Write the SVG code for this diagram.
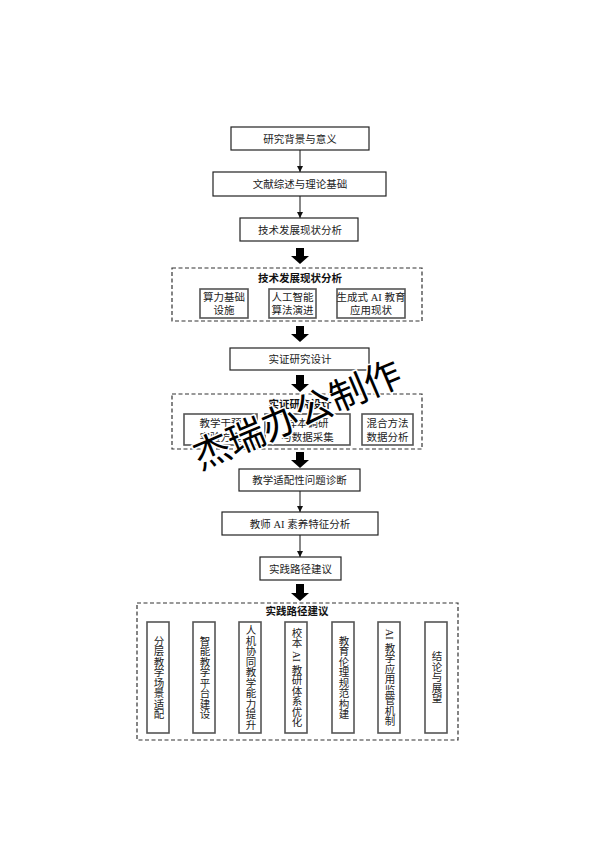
<svg xmlns="http://www.w3.org/2000/svg" width="594" height="841" viewBox="0 0 594 841">
<defs>
<style>
.bg{fill:#ffffff}
.box{fill:#ffffff;stroke:#222;stroke-width:1.2}
.ibox{fill:#ffffff;stroke:#555;stroke-width:1.6}
.dash{fill:none;stroke:#333;stroke-width:1.2;stroke-dasharray:4 2.5}
.t{font-family:"Liberation Serif","Noto Sans CJK SC",serif;font-size:10.5px;fill:#222;text-anchor:middle}
.tt{font-family:"Noto Sans CJK SC",sans-serif;font-size:10.5px;font-weight:bold;fill:#111;text-anchor:middle}
.v{font-family:"Liberation Serif","Noto Sans CJK SC",serif;font-size:10.5px;fill:#222;text-anchor:middle;writing-mode:vertical-rl}
.ln{stroke:#111;stroke-width:1;fill:none}
.blk{fill:#000}
.wm{font-family:"Noto Sans CJK SC",sans-serif;font-size:37px;fill:#000;stroke:#fff;stroke-width:3;paint-order:stroke;text-anchor:middle}
</style>
<marker id="ah" markerWidth="8" markerHeight="8" refX="6" refY="4" orient="auto" markerUnits="userSpaceOnUse" viewBox="0 0 8 8">
<path d="M0,1 L6,4 L0,7 Z" fill="#111"/>
</marker>
</defs>
<rect class="bg" x="0" y="0" width="594" height="841"/>

<g id="connectors">
<line class="ln" x1="300" y1="150" x2="300" y2="172" marker-end="url(#ah)"/>
<line class="ln" x1="300" y1="196" x2="300" y2="218" marker-end="url(#ah)"/>
<path class="blk" d="M296,248 H304 V256 H309 L300,264 L291,256 H296 Z"/>
<path class="blk" d="M296,326 H304 V334 H309 L300,342 L291,334 H296 Z"/>
<path class="blk" d="M296,375 H304 V384 H309 L300,392 L291,384 H296 Z"/>
<path class="blk" d="M296,452 H304 V460 H309 L300,468 L291,460 H296 Z"/>
<line class="ln" x1="300" y1="491" x2="300" y2="512" marker-end="url(#ah)"/>
<line class="ln" x1="300" y1="535" x2="300" y2="557" marker-end="url(#ah)"/>
<path class="blk" d="M296,584 H304 V593 H309 L300,601 L291,593 H296 Z"/>
</g>

<g id="n1"><rect class="box" x="231" y="127" width="138" height="23"/><text class="t" x="300" y="142.5">研究背景与意义</text></g>
<g id="n2"><rect class="box" x="213" y="172" width="173" height="24"/><text class="t" x="300" y="188">文献综述与理论基础</text></g>
<g id="n3"><rect class="box" x="240" y="218" width="118" height="23"/><text class="t" x="300" y="233.5">技术发展现状分析</text></g>

<g id="g1">
<rect class="dash" x="172" y="268" width="250" height="53"/>
<text class="tt" x="300" y="282">技术发展现状分析</text>
</g>
<g id="g1a"><rect class="ibox" x="200" y="289" width="48" height="29"/><text class="t" x="224" y="301">算力基础</text><text class="t" x="224" y="314">设施</text></g>
<g id="g1b"><rect class="ibox" x="269" y="289" width="47" height="29"/><text class="t" x="292.5" y="301">人工智能</text><text class="t" x="292.5" y="314">算法演进</text></g>
<g id="g1c"><rect class="ibox" x="337" y="289" width="68" height="29"/><text class="t" x="371" y="301">生成式 AI 教育</text><text class="t" x="371" y="314">应用现状</text></g>

<g id="n4"><rect class="box" x="230" y="348" width="139" height="22"/><text class="t" x="300" y="363">实证研究设计</text></g>

<g id="g2">
<rect class="dash" x="172" y="394" width="250" height="55"/>
<text class="tt" x="300" y="408">实证研究设计</text>
</g>
<g id="g2a"><rect class="ibox" x="184" y="414" width="73" height="31"/><text class="t" x="220.5" y="427">教学干预</text><text class="t" x="220.5" y="441">实验方案</text></g>
<g id="g2b"><rect class="ibox" x="265" y="414" width="85" height="31"/><text class="t" x="307.5" y="427">样本调研</text><text class="t" x="307.5" y="441">与数据采集</text></g>
<g id="g2c"><rect class="ibox" x="362" y="414" width="51" height="31"/><text class="t" x="387.5" y="427">混合方法</text><text class="t" x="387.5" y="441">数据分析</text></g>

<g id="n5"><rect class="box" x="239" y="469" width="121" height="22"/><text class="t" x="299.5" y="484">教学适配性问题诊断</text></g>
<g id="n6"><rect class="box" x="222" y="512" width="156" height="23"/><text class="t" x="300" y="527.5">教师 AI 素养特征分析</text></g>
<g id="n7"><rect class="box" x="260" y="557" width="81" height="23"/><text class="t" x="300.5" y="572.5">实践路径建议</text></g>

<g id="g3">
<rect class="dash" x="137" y="603" width="321" height="137"/>
<text class="tt" x="297" y="615">实践路径建议</text>
</g>
<g id="v1"><rect class="ibox" x="147" y="622" width="22" height="111"/><text class="v" x="158" y="677.5">分层教学场景适配</text></g>
<g id="v2"><rect class="ibox" x="193" y="622" width="22" height="111"/><text class="v" x="204" y="677.5">智能教学平台建设</text></g>
<g id="v3"><rect class="ibox" x="239" y="622" width="22" height="111"/><text class="v" x="250" y="677.5">人机协同教学能力提升</text></g>
<g id="v4"><rect class="ibox" x="285" y="622" width="22" height="111"/><text class="v" x="296" y="677.5">校本 AI 教研体系优化</text></g>
<g id="v5"><rect class="ibox" x="332" y="622" width="22" height="111"/><text class="v" x="343" y="677.5">教育伦理规范构建</text></g>
<g id="v6"><rect class="ibox" x="378" y="622" width="22" height="111"/><text class="v" x="389" y="677.5">AI 教学应用监管机制</text></g>
<g id="v7"><rect class="ibox" x="425" y="622" width="22" height="111"/><text class="v" x="436" y="677.5">结论与展望</text></g>

<g id="watermark"><text class="wm" x="297" y="428" transform="rotate(-23 297 415)">杰瑞办公制作</text></g>
</svg>
